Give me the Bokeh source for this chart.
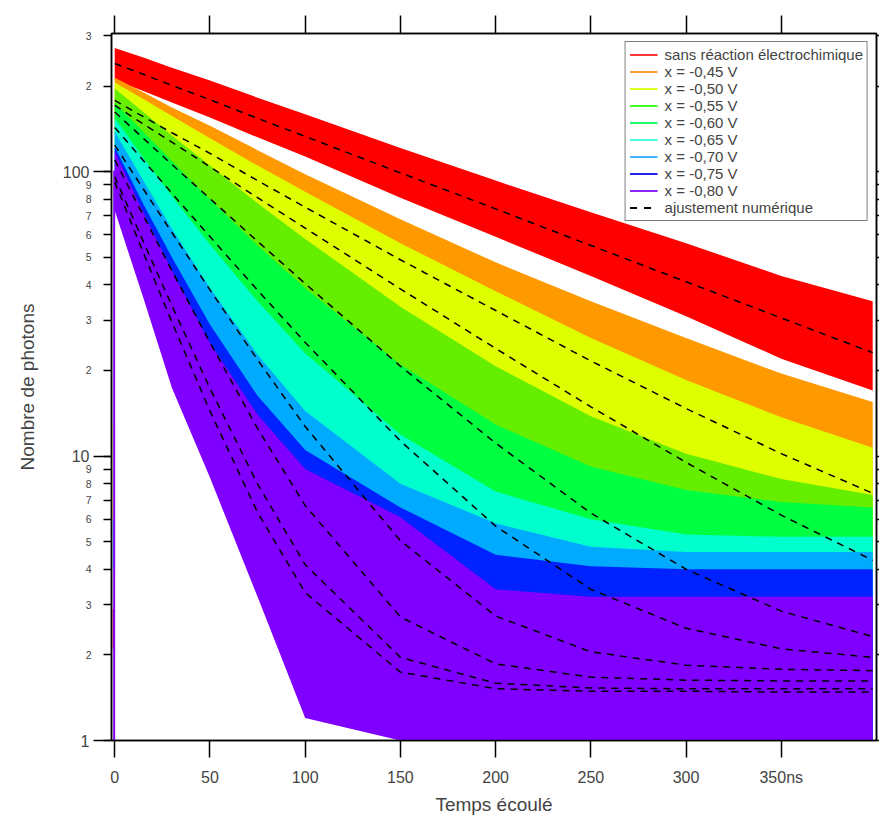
from bokeh.plotting import figure
from bokeh.models import (FixedTicker, LinearAxis, LogAxis, Legend, LegendItem,
                          Range1d, CustomJSTickFormatter)
from bokeh.embed import file_html
from bokeh.resources import INLINE

# ---------------- data ----------------
T = [0, 15, 30, 50, 75, 100, 150, 200, 250, 300, 350, 398]

names = ["sans réaction électrochimique", "x = -0,45 V", "x = -0,50 V", "x = -0,55 V",
         "x = -0,60 V", "x = -0,65 V", "x = -0,70 V", "x = -0,75 V", "x = -0,80 V"]
colors = ["#FF0000", "#FF9900", "#DDFF00", "#66EE00", "#00FF40",
          "#00FFCC", "#00AAFF", "#0022FF", "#8000FF"]
legend_colors = ["#FF3333", "#FFA033", "#DDFF22", "#44FF22", "#22FF66",
                 "#44FFDD", "#44B4FF", "#2222EE", "#8822FF"]

red_hi = [272, 252, 232, 209, 182, 159, 121, 93, 72, 56, 43, 35]
red_lo = [210, 192, 175, 155, 132, 113, 81, 59, 43, 31, 22, 17]
red_fit = [240, 220, 201, 179, 154, 133, 99, 74, 55, 41, 30.6, 23.1]

orange_hi = [214, 190, 168, 145, 119, 98, 68, 48, 35, 26, 19.5, 15.5]
orange_lo = [151, 131, 114, 95, 74, 58, 35, 21, 12.3, 7, 3.8, 2]
orange_fit = [178, 156, 137, 116, 93, 75, 49, 32.5, 21.6, 14.7, 10.2, 7.4]

yellow_hi = [206, 180, 157, 131, 105, 85, 56, 38, 26, 18.5, 13.7, 10.7]
yellow_lo = [145, 123, 104, 84, 63, 47, 26, 14, 7.2, 3.3, 1.2, 1]
yellow_fit = [171, 147, 127, 104, 81, 63.3, 38.7, 23.9, 14.9, 9.5, 6.2, 4.3]

yg_hi = [196, 162, 134, 105, 77.5, 58, 33.5, 20.7, 13.8, 10.2, 8.3, 7.3]
yg_lo = [136, 108, 85, 62, 42, 28, 11.6, 4.4, 1.3, 1, 1, 1]
yg_fit = [162, 131, 106, 80.4, 56.9, 40.4, 20.7, 11.1, 6.3, 4.0, 2.85, 2.32]

green_hi = [175, 138, 109, 80, 55, 39, 21, 12.9, 9.2, 7.6, 6.9, 6.6]
green_lo = [119, 89, 66, 44, 26, 15, 4.6, 1, 1, 1, 1, 1]
green_fit = [143, 109.5, 84, 59.1, 38.3, 25.1, 11.3, 5.67, 3.4, 2.48, 2.1, 1.96]

cyan_hi = [154, 112, 82, 55.5, 35, 23, 11.9, 7.5, 6, 5.3, 5.2, 5.2]
cyan_lo = [102, 68, 45.5, 26, 12.5, 5.6, 1, 1, 1, 1, 1, 1]
cyan_fit = [124, 86.9, 61.1, 38.4, 21.8, 12.7, 5.04, 2.74, 2.05, 1.84, 1.78, 1.76]

lb_hi = [138, 93, 63, 39, 22.7, 14.4, 8, 5.8, 4.8, 4.6, 4.6, 4.6]
lb_lo = [89, 53, 31.5, 15, 5.4, 1.5, 1, 1, 1, 1, 1, 1]
lb_fit = [110, 70.1, 44.9, 25.1, 12.5, 6.7, 2.72, 1.86, 1.67, 1.63, 1.62, 1.62]

blue_hi = [122, 77, 50, 29, 16.3, 10.5, 6.6, 4.5, 4.1, 4, 4, 4]
blue_lo = [76, 42, 22, 9, 3.5, 1.3, 1, 1, 1, 1, 1, 1]
blue_fit = [96, 56.8, 33.8, 17.3, 7.97, 4.15, 1.96, 1.59, 1.53, 1.52, 1.52, 1.52]

violet_hi = [118, 72, 45, 25, 14, 9, 6.1, 3.4, 3.2, 3.2, 3.2, 3.2]
violet_lo = [73, 36, 17.4, 8.4, 3.2, 1.2, 1, 1, 1, 1, 1, 1]
violet_fit = [92, 51.9, 29.6, 14.4, 6.34, 3.31, 1.74, 1.52, 1.49, 1.49, 1.48, 1.48]

his = [red_hi, orange_hi, yellow_hi, yg_hi, green_hi, cyan_hi, lb_hi, blue_hi, violet_hi]
los = [red_lo, orange_lo, yellow_lo, yg_lo, green_lo, cyan_lo, lb_lo, blue_lo, violet_lo]
fits = [red_fit, orange_fit, yellow_fit, yg_fit, green_fit, cyan_fit, lb_fit, blue_fit, violet_fit]

# vertical rise of the traces just before t = 0
rise_t = [-0.5, -0.5, -0.5, -0.5, -0.3]
rise_lo = [2.1, 6, 6, 4, 1]
rise_hi = [2.9, 7, 13, 6, 101]
rise_colors = ["#FF0000", "#FF9900", "#DDFF00", "#00FFCC", "#8000FF"]

x_ticks = [0, 50, 100, 150, 200, 250, 300, 350]
x_tick_labels = ["0", "50", "100", "150", "200", "250", "300", "350ns"]
y_ticks = [1, 2, 3, 4, 5, 6, 7, 8, 9, 10, 20, 30, 40, 50, 60, 70, 80, 90, 100, 200, 300]
y_tick_labels = ["", "2", "3", "4", "5", "6", "7", "8", "9", "", "2", "3", "4", "5", "6",
                 "7", "8", "9", "", "2", "3"]
y_big_ticks = [1, 10, 100]
y_big_labels = ["1", "10", "100"]

FONT = "Liberation Sans"

p = figure(width=879, height=817, x_range=Range1d(-1.7, 400), y_range=Range1d(1, 306),
           y_axis_type="log", output_backend="svg", toolbar_location=None,
           min_border_left=111, min_border_right=3, min_border_top=33, min_border_bottom=72)
p.grid.visible = False
p.outline_line_color = "black"
p.outline_line_width = 1.5
p.background_fill_color = "white"

# data bands
for hi, lo, c in zip(his, los, colors):
    p.varea(x=T, y1=lo, y2=hi, fill_color=c, fill_alpha=1.0)

p.segment(x0=rise_t, y0=rise_lo, x1=rise_t, y1=rise_hi, line_color=rise_colors, line_width=2)

# fits
for f in fits:
    p.line(T, f, line_color="black", line_dash="7 6", line_width=1.5)

# legend entries (line samples kept outside the visible range)
items = []
for n, c in zip(names, legend_colors):
    r = p.line([-60, -50], [1, 1], line_color=c, line_width=2)
    items.append(LegendItem(label=n, renderers=[r]))
rf = p.line([-60, -50], [1, 1], line_color="black", line_dash="7 7", line_width=2)
items.append(LegendItem(label="ajustement numérique", renderers=[rf]))

legend = Legend(items=items, location="top_right", margin=8, padding=4, spacing=0,
                glyph_width=28, glyph_height=17, label_height=17, label_standoff=7,
                label_text_font=FONT, label_text_font_size="15px",
                border_line_color="black", border_line_width=1.5,
                background_fill_alpha=1.0)
p.add_layout(legend)

# bottom axis
xa = p.xaxis[0]
xa.ticker = FixedTicker(ticks=x_ticks)
xa.major_label_overrides = dict(zip(x_ticks, x_tick_labels))
xa.major_tick_out = 17
xa.major_tick_in = 0
xa.minor_tick_out = 0
xa.minor_tick_in = 0
xa.axis_line_width = 1.5
xa.major_tick_line_width = 1.5
xa.major_label_text_font = FONT
xa.major_label_text_font_size = "16px"
xa.major_label_standoff = 11
xa.axis_label = "Temps écoulé"
xa.axis_label_text_font = FONT
xa.axis_label_text_font_size = "19px"
xa.axis_label_text_font_style = "normal"
xa.axis_label_standoff = 5

# left axis: ticks + small labels
ya = p.yaxis[0]
ya.ticker = FixedTicker(ticks=y_ticks, minor_ticks=y_big_ticks)
ya.major_label_overrides = dict(zip(y_ticks, y_tick_labels))
ya.major_tick_out = 8
ya.major_tick_in = 0
ya.minor_tick_out = 18
ya.minor_tick_in = 0
ya.axis_line_width = 1.5
ya.major_tick_line_width = 1.5
ya.minor_tick_line_width = 1.5
ya.major_label_text_font = FONT
ya.major_label_text_font_size = "10.5px"
ya.major_label_standoff = 2

# second left axis: big decade labels + title
ya2 = LogAxis(ticker=FixedTicker(ticks=y_big_ticks, minor_ticks=[]),
              major_label_overrides=dict(zip(y_big_ticks, y_big_labels)),
              axis_line_color=None, major_tick_line_color=None, minor_tick_line_color=None,
              major_tick_out=0, major_tick_in=0, minor_tick_out=0, minor_tick_in=0,
              major_label_standoff=-7, major_label_text_font=FONT,
              major_label_text_font_size="16px",
              axis_label="Nombre de photons", axis_label_text_font=FONT,
              axis_label_text_font_size="19px", axis_label_text_font_style="normal",
              axis_label_standoff=22)
p.add_layout(ya2, "left")

blank = CustomJSTickFormatter(code="return ''")
top = LinearAxis(ticker=FixedTicker(ticks=x_ticks), formatter=blank,
                 major_tick_out=18, major_tick_in=0, minor_tick_out=0, minor_tick_in=0,
                 major_label_standoff=0, axis_line_width=1.5, major_tick_line_width=1.5)
p.add_layout(top, "above")
right = LogAxis(ticker=FixedTicker(ticks=y_ticks, minor_ticks=y_big_ticks), formatter=blank,
                major_tick_out=3, major_tick_in=0, minor_tick_out=3, minor_tick_in=0,
                major_label_standoff=0, axis_line_width=1.5, major_tick_line_width=1.5)
p.add_layout(right, "right")

open("out.html", "w").write(file_html(p, INLINE))
